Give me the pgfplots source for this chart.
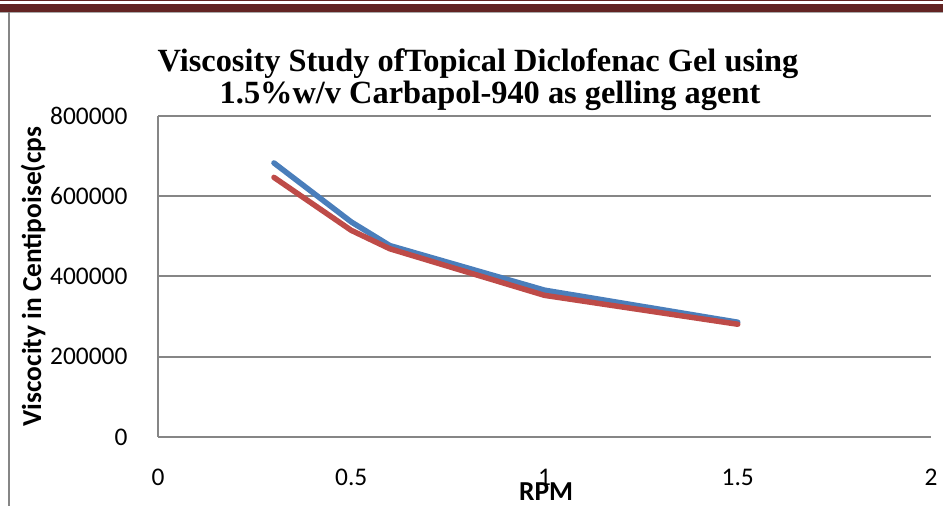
\documentclass[border=0pt]{standalone}
\usepackage{pgfplots}
\pgfplotsset{compat=1.18}
\usepackage{fontspec}
\setmainfont{Carlito}
\newfontfamily\titlefont{Liberation Serif}
\definecolor{exblue}{HTML}{4A7EBB}
\definecolor{exred}{HTML}{BE4B48}
\definecolor{gridgrey}{HTML}{868686}
\definecolor{banner}{HTML}{632423}
\begin{document}
\begin{tikzpicture}[x=1bp,y=1bp]
\useasboundingbox (0,0) rectangle (943,506);
% page decoration
\fill[banner] (0,504.5) rectangle (943,506);
\fill[banner] (0,494.3) rectangle (943,502.3);
\fill[gridgrey!70] (0,492.8) rectangle (943,494.3);
\fill[gridgrey] (8,0) rectangle (10,494);
% title
\node[font=\titlefont\bfseries\fontsize{32.5}{36}\selectfont, anchor=base] at (478,434) {Viscosity Study ofTopical Diclofenac Gel using};
\node[font=\titlefont\bfseries\fontsize{32.5}{36}\selectfont, anchor=base] at (490,402) {1.5\%w/v Carbapol-940 as gelling agent};
\begin{axis}[
  at={(158bp,69bp)}, anchor=south west,
  scale only axis, width=773bp, height=321bp,
  xmin=0, xmax=2, ymin=0, ymax=800000,
  xtick={0,0.5,1,1.5,2}, ytick={0,200000,400000,600000,800000},
  xticklabels={0,0.5,1,1.5,2},
  scaled y ticks=false,
  yticklabel={\pgfmathprintnumber[fixed,precision=0,set thousands separator={}]{\tick}},
  /pgf/number format/assume math mode=true,
  axis x line*=bottom, axis y line*=left,
  axis line style={gridgrey, line width=2bp, -},
  major tick length=0pt,
  ymajorgrids, grid style={gridgrey, line width=2bp},
  tick label style={font=\fontsize{25.5}{30}\selectfont, black},
  xticklabel style={anchor=base, yshift=-49bp},
  yticklabel style={anchor=east, xshift=-27bp},
  every axis y label/.style={at={(axis description cs:-0.1617,0.5)}, rotate=90, anchor=center, font=\bfseries\fontsize{27.5}{32}\selectfont},
  every axis x label/.style={at={(axis description cs:0.502,-0.171)}, anchor=center, font=\bfseries\fontsize{27.5}{32}\selectfont},
  ylabel={Viscocity in Centipoise(cps},
  xlabel={RPM},
  clip=false,
]
\addplot[exblue, line width=5.5bp, line join=round, line cap=round] coordinates {
  (0.3,683000) (0.5,536000) (0.6,477000) (1.0,366000) (1.5,286000)
};
\addplot[exred, line width=5.5bp, line join=round, line cap=round] coordinates {
  (0.3,647000) (0.5,515000) (0.6,469000) (1.0,353000) (1.5,281000)
};
\end{axis}
\end{tikzpicture}
\end{document}
